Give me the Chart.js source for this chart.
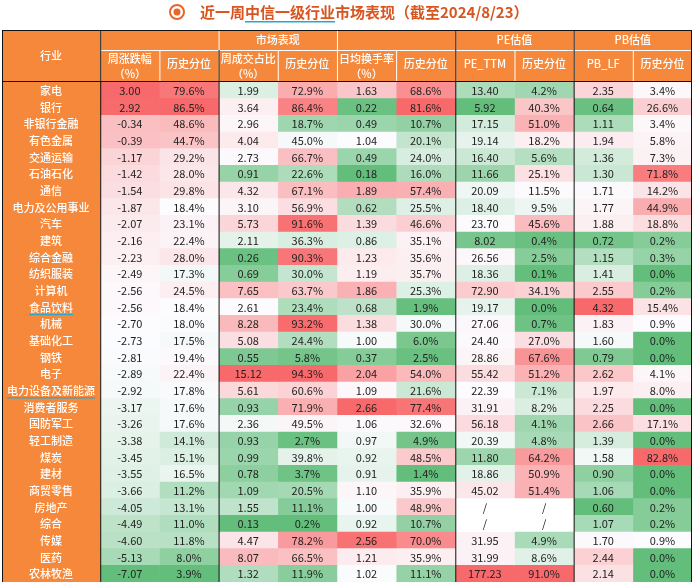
<!DOCTYPE html>
<html><head><meta charset="utf-8">
<script src="https://cdn.jsdelivr.net/npm/chart.js@4/dist/chart.umd.min.js"></script>
<style>
  html,body{margin:0;padding:0;background:#fff;}
  #wrap{position:relative;width:695px;height:582px;}
</style></head>
<body>
<div id="wrap"><canvas id="c" width="695" height="582"></canvas></div>
<script>
// ── Data ──
const industries = ['家电','银行','非银行金融','有色金属','交通运输','石油石化','通信','电力及公用事业','汽车','建筑','综合金融','纺织服装','计算机','食品饮料','机械','基础化工','钢铁','电子','电力设备及新能源','消费者服务','国防军工','轻工制造','煤炭','建材','商贸零售','房地产','综合','传媒','医药','农林牧渔'];
const weekChg    = [3.00,2.92,-0.34,-0.39,-1.17,-1.42,-1.54,-1.87,-2.07,-2.16,-2.23,-2.49,-2.56,-2.56,-2.70,-2.73,-2.81,-2.89,-2.92,-3.17,-3.26,-3.38,-3.45,-3.55,-3.66,-4.05,-4.49,-4.60,-5.13,-7.07];
const weekChgPct = [79.6,86.5,48.6,44.7,29.2,28.0,29.8,18.4,23.1,22.4,28.0,17.3,24.5,18.4,18.0,17.5,19.4,22.4,17.8,17.6,17.6,14.1,15.1,16.5,11.2,13.1,11.0,11.8,8.0,3.9];
const volShare   = [1.99,3.64,2.96,4.04,2.73,0.91,4.32,3.10,5.73,2.11,0.26,0.69,7.65,2.61,8.28,5.08,0.55,15.12,5.61,0.93,2.36,0.93,0.99,0.78,1.09,1.55,0.13,4.47,8.07,1.32];
const volSharePct= [72.9,86.4,18.7,45.0,66.7,22.6,67.1,56.9,91.6,36.3,90.3,30.0,63.7,23.4,93.2,24.4,5.8,94.3,60.6,71.9,49.5,2.7,39.8,3.7,20.5,11.1,0.2,78.2,66.5,11.9];
const turnover   = [1.63,0.22,0.49,1.04,0.49,0.18,1.89,0.62,1.39,0.86,1.23,1.19,1.86,0.68,1.38,1.00,0.37,2.04,1.09,2.66,1.06,0.97,0.92,0.91,1.10,1.00,0.92,2.56,1.21,1.02];
const turnoverPct= [68.6,81.6,10.7,20.1,24.0,16.0,57.4,25.5,46.6,35.1,35.6,35.7,25.3,1.9,30.0,6.0,2.5,54.0,21.6,77.4,32.6,4.9,48.5,1.4,35.9,48.9,10.7,70.0,35.9,11.1];
const peTTM      = [13.40,5.92,17.15,19.14,16.40,11.66,20.09,18.40,23.70,8.02,26.56,18.36,72.90,19.17,27.06,24.40,28.86,55.42,22.39,31.91,56.18,20.39,11.80,18.86,45.02,null,null,31.95,31.99,177.23];
const pePct      = [4.2,40.3,51.0,18.2,5.6,25.1,11.5,9.5,45.6,0.4,2.5,0.1,34.1,0.0,0.7,27.0,67.6,51.2,7.1,8.2,4.1,4.8,64.2,50.9,51.4,null,null,4.9,8.6,91.0];
const pbLF       = [2.35,0.64,1.11,1.94,1.36,1.30,1.71,1.77,1.88,0.72,1.15,1.41,2.55,4.32,1.83,1.60,0.79,2.62,1.97,2.25,2.66,1.39,1.58,0.90,1.06,0.60,1.07,1.70,2.44,2.14];
const pbPct      = [3.4,26.6,3.4,5.8,7.3,71.8,14.2,44.9,18.8,0.2,0.3,0.0,0.2,15.4,0.9,0.0,0.0,4.1,8.0,0.0,17.1,0.0,82.8,0.0,0.0,0.2,0.2,0.9,0.0,0.0];

const columns = [
  { v: weekChg,     fmt: 2 }, { v: weekChgPct,  fmt: 'p' },
  { v: volShare,    fmt: 2 }, { v: volSharePct, fmt: 'p' },
  { v: turnover,    fmt: 2 }, { v: turnoverPct, fmt: 'p' },
  { v: peTTM,       fmt: 2 }, { v: pePct,       fmt: 'p' },
  { v: pbLF,        fmt: 2 }, { v: pbPct,       fmt: 'p' }
];

// ── Layout ──
const LABEL_W = 1.66;            // width of 行业 column in column units
const TOTAL = LABEL_W + columns.length;
const ORANGE = '#F5883A';

// 3-colour scale: green (min) → white (median) → red (max)
function scaleColor(vals) {
  const nums = vals.filter(v => v !== null).slice().sort((a,b)=>a-b);
  const min = nums[0], max = nums[nums.length-1];
  const mid = nums.length % 2 ? nums[(nums.length-1)/2] : (nums[nums.length/2-1]+nums[nums.length/2])/2;
  const G=[99,190,123], W=[252,252,255], R=[248,105,107];
  const mix=(a,b,t)=>`rgb(${a.map((x,i)=>Math.round(x+(b[i]-x)*t)).join(',')})`;
  return vals.map(v => {
    if (v === null) return '#ffffff';
    if (v <= mid) return mix(G, W, mid===min ? 1 : (v-min)/(mid-min));
    return mix(W, R, (v-mid)/(max-mid));
  });
}

const datasets = [{
  data: industries.map(() => [0, LABEL_W]),
  backgroundColor: ORANGE, borderWidth: 0,
  cellText: industries, labelCol: true
}].concat(columns.map((col, i) => ({
  data: industries.map(() => [LABEL_W + i, LABEL_W + i + 1]),
  backgroundColor: scaleColor(col.v), borderWidth: 0,
  cellText: col.v.map(v => v === null ? '/' : col.fmt === 'p' ? v.toFixed(1) + '%' : v.toFixed(2))
})));

const FONT = '"Noto Sans CJK SC","Noto Sans",sans-serif';

const tablePlugin = {
  id: 'table',
  afterDatasetsDraw(chart) {
    const ctx = chart.ctx, x = chart.scales.x, ca = chart.chartArea;
    const px = u => x.getPixelForValue(u);
    ctx.save();
    ctx.textAlign = 'center'; ctx.textBaseline = 'middle';
    // cell text
    chart.data.datasets.forEach((ds, di) => {
      chart.getDatasetMeta(di).data.forEach((el, ri) => {
        const cx = (el.x + el.base) / 2;
        if (ds.labelCol) {
          ctx.font = '500 11px ' + FONT; ctx.fillStyle = '#fff';
        } else {
          ctx.font = '11px ' + FONT; ctx.fillStyle = '#222';
        }
        ctx.fillText(ds.cellText[ri], cx, el.y + 0.5);
        if (ds.labelCol && (industries[ri] === '食品饮料' || industries[ri] === '电力设备及新能源')) {
          const w = ctx.measureText(ds.cellText[ri]).width;
          ctx.fillStyle = '#2aa7c9';
          ctx.fillRect(cx - w/2, el.y + 7, w, 1.2);
        }
      });
    });
    // header
    const top = 30, mid = 50, bot = ca.top;
    ctx.fillStyle = ORANGE;
    ctx.fillRect(px(0), top, px(TOTAL) - px(0), bot - top);
    ctx.strokeStyle = '#fff'; ctx.lineWidth = 1;
    ctx.beginPath();
    ctx.moveTo(px(LABEL_W), mid + 0.5); ctx.lineTo(px(TOTAL), mid + 0.5);
    for (let i = 1; i < columns.length; i++) {
      if (i % 2 === 0) continue;
      ctx.moveTo(px(LABEL_W + i) + 0.5, mid); ctx.lineTo(px(LABEL_W + i) + 0.5, bot);
    }
    [0, 2, 4, 6, 8].forEach(i => { ctx.moveTo(px(LABEL_W + i) + 0.5, top); ctx.lineTo(px(LABEL_W + i) + 0.5, bot); });
    ctx.stroke();
    ctx.fillStyle = '#fff'; ctx.font = '500 11px ' + FONT;
    ctx.fillText('行业', px(LABEL_W / 2), (top + bot) / 2);
    const groups = [['市场表现', 0, 6], ['PE估值', 6, 8], ['PB估值', 8, 10]];
    groups.forEach(([t, a, b]) => ctx.fillText(t, (px(LABEL_W + a) + px(LABEL_W + b)) / 2, (top + mid) / 2));
    const subs = [['周涨跌幅','（%）'],['历史分位'],['周成交占比','（%）'],['历史分位'],['日均换手率','（%）'],['历史分位'],['PE_TTM'],['历史分位'],['PB_LF'],['历史分位']];
    subs.forEach((s, i) => {
      const cx = (px(LABEL_W + i) + px(LABEL_W + i + 1)) / 2;
      if (s.length === 2) {
        ctx.fillText(s[0], cx, mid + 9); ctx.fillText(s[1], cx, mid + 24);
      } else ctx.fillText(s[0], cx, (mid + bot) / 2 - 2);
    });
    // black borders
    ctx.strokeStyle = '#111'; ctx.lineWidth = 1;
    ctx.beginPath();
    [0, LABEL_W, LABEL_W + 2, LABEL_W + 6, LABEL_W + 8].forEach(u => {
      ctx.moveTo(px(u) + 0.5, u === LABEL_W + 2 ? bot : top); ctx.lineTo(px(u) + 0.5, ca.bottom);
    });
    ctx.moveTo(px(LABEL_W + 2) + 0.5, mid); ctx.lineTo(px(LABEL_W + 2) + 0.5, bot);
    ctx.moveTo(px(TOTAL) - 0.5, top); ctx.lineTo(px(TOTAL) - 0.5, ca.bottom);
    ctx.moveTo(px(0), top + 0.5); ctx.lineTo(px(TOTAL), top + 0.5);
    ctx.moveTo(px(0), bot - 0.5); ctx.lineTo(px(TOTAL), bot - 0.5);
    ctx.stroke();
    // title
    ctx.font = 'bold 15px ' + FONT; ctx.fillStyle = '#D9541E'; ctx.textAlign = 'left';
    const title = '近一周中信一级行业市场表现（截至2024/8/23）';
    const tx = 200;
    ctx.fillText(title, tx, 12);
    const w1 = ctx.measureText('近一周').width, w2 = ctx.measureText('中信一级行业').width;
    ctx.fillStyle = '#2aa7c9'; ctx.fillRect(tx + w1, 21, w2, 1.5);
    ctx.strokeStyle = '#E8662A'; ctx.lineWidth = 2;
    ctx.beginPath(); ctx.arc(177, 12, 7, 0, Math.PI * 2); ctx.stroke();
    ctx.fillStyle = '#E8662A';
    ctx.beginPath(); ctx.arc(177, 12, 3.5, 0, Math.PI * 2); ctx.fill();
    ctx.restore();
  }
};

new Chart(document.getElementById('c'), {
  type: 'bar',
  data: { labels: industries, datasets },
  options: {
    indexAxis: 'y', responsive: false, animation: false,
    layout: { padding: { left: 2, right: 3, top: 82, bottom: 0 } },
    datasets: { bar: { barPercentage: 1, categoryPercentage: 1, grouped: false } },
    scales: {
      x: { type: 'linear', min: 0, max: TOTAL, display: false },
      y: { display: false }
    },
    plugins: { legend: { display: false }, tooltip: { enabled: false } }
  },
  plugins: [tablePlugin]
});
</script>
</body></html>
